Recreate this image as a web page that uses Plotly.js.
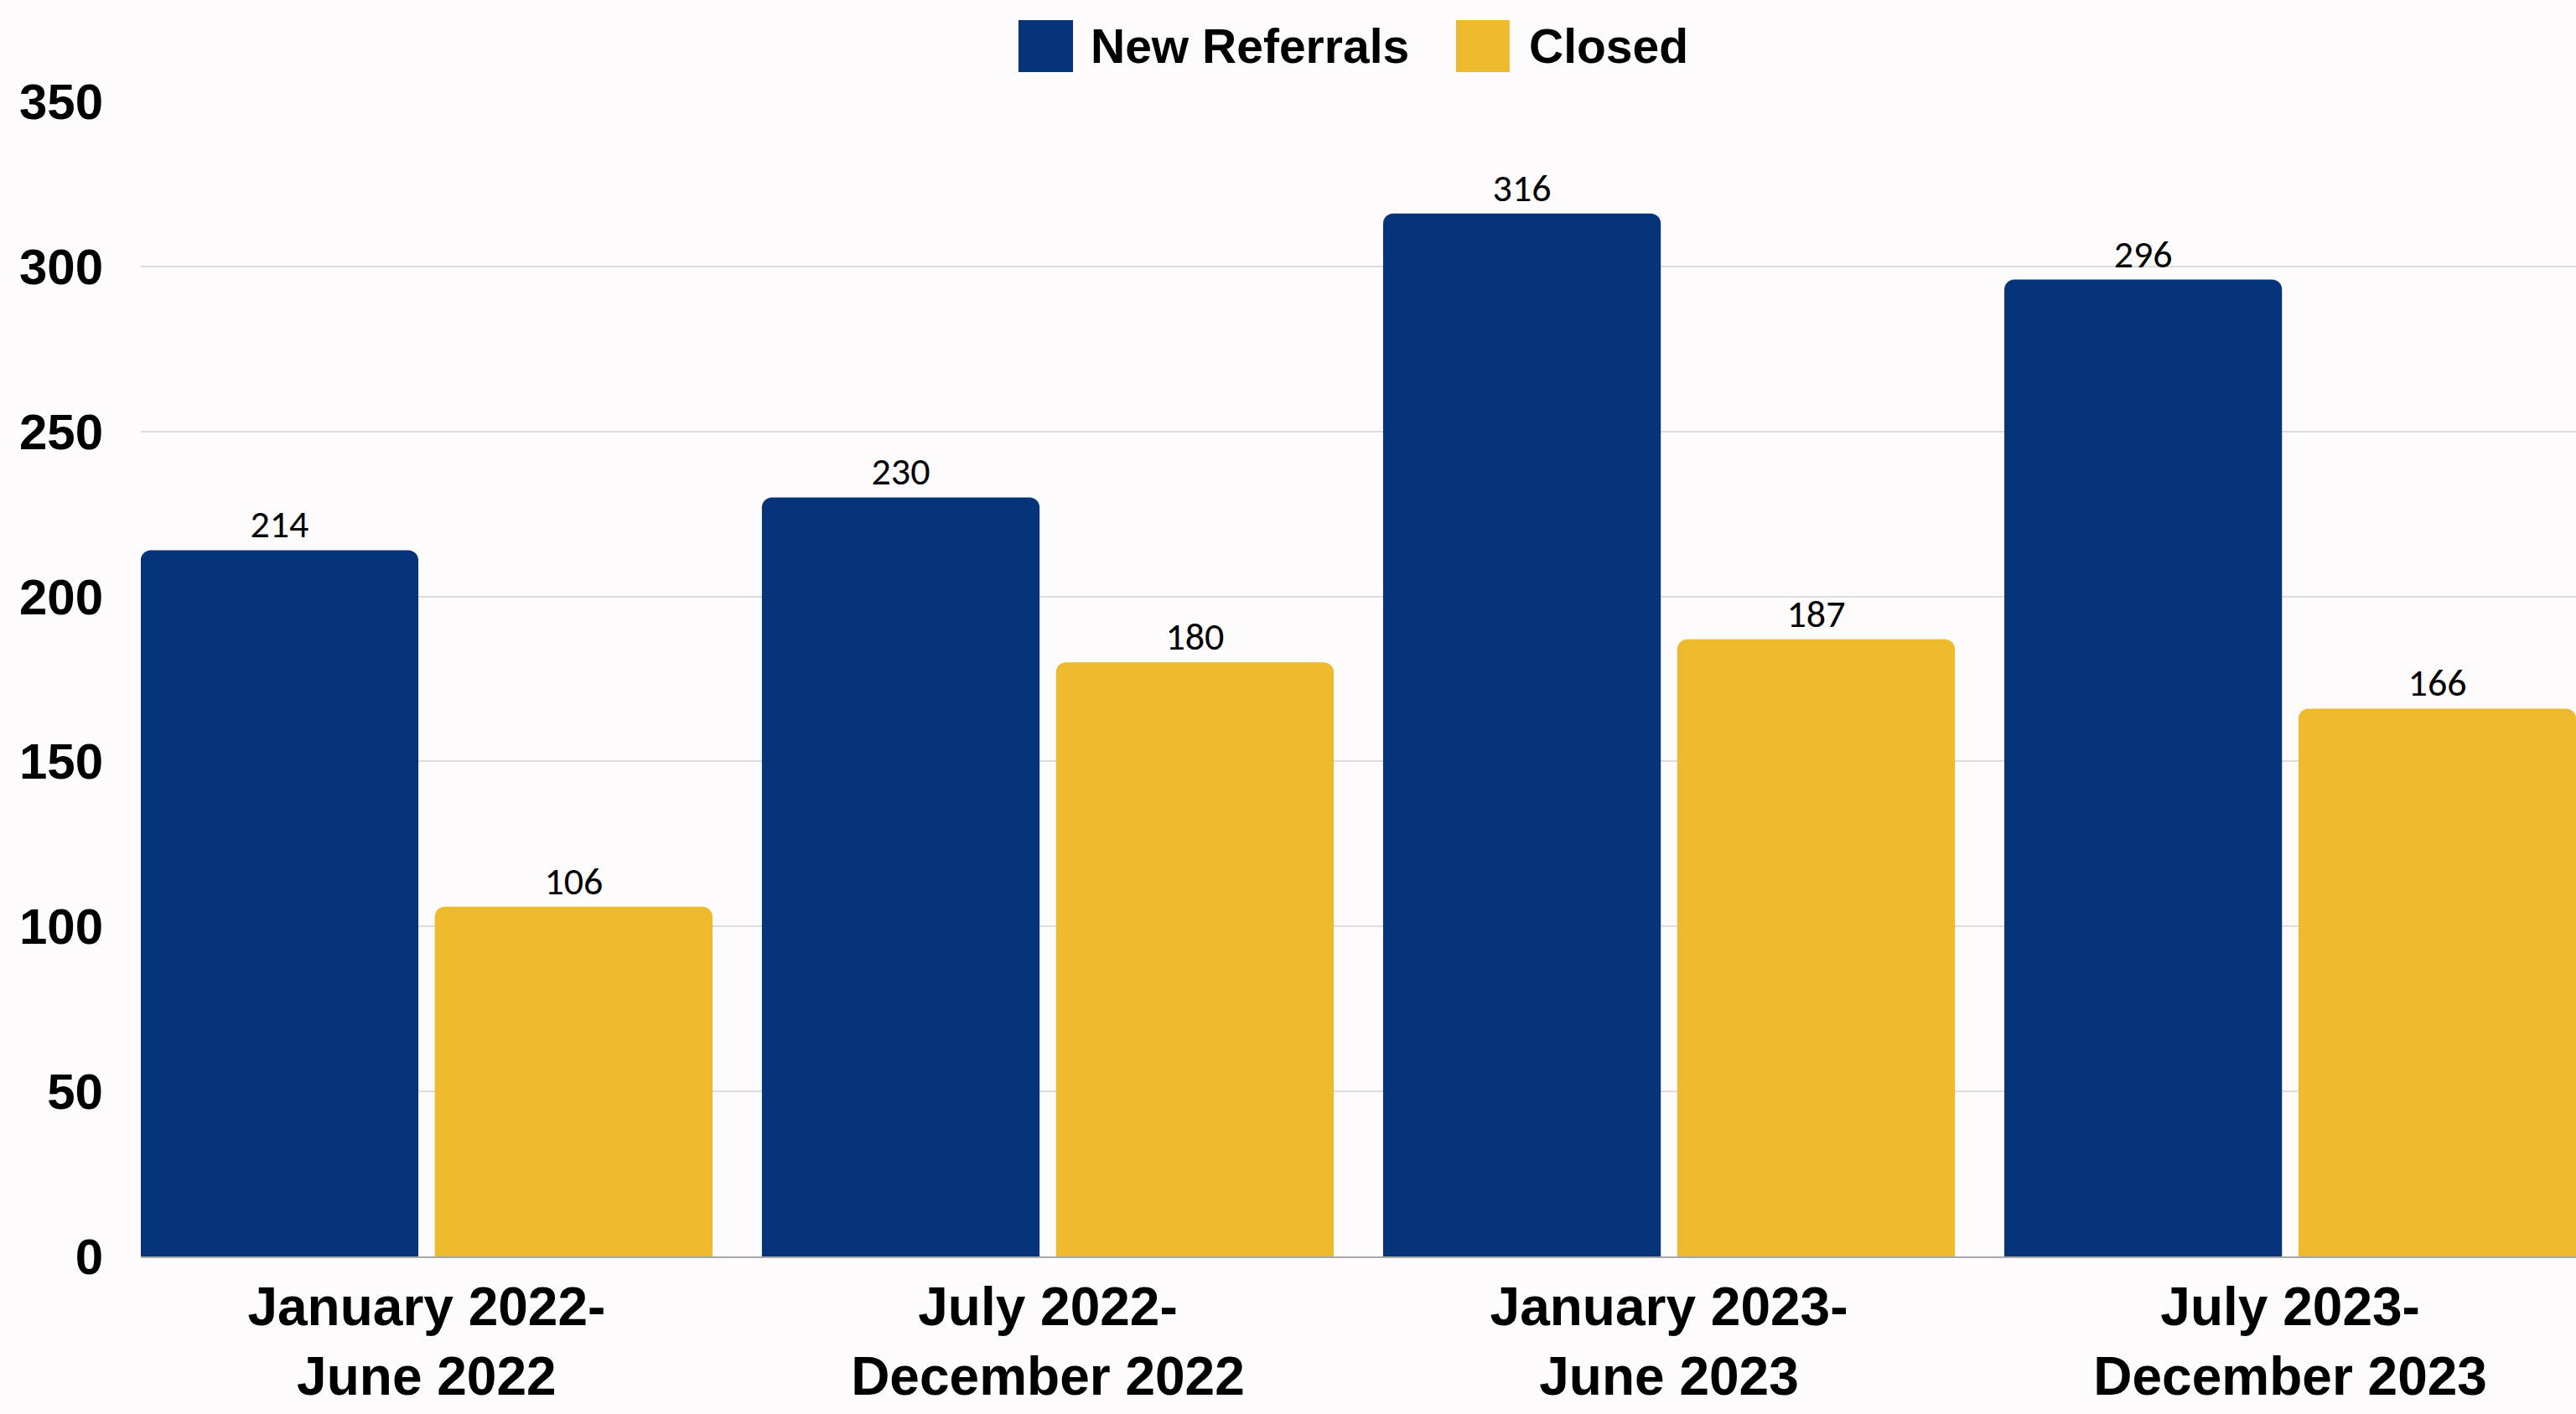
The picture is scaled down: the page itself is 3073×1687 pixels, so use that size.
<!DOCTYPE html>
<html>
<head>
<meta charset="utf-8">
<script src="https://cdn.plot.ly/plotly-3.0.1.min.js"></script>
<style>
  html, body { margin: 0; padding: 0; background: #FDFBFC; }
  #chart { width: 3073px; height: 1687px; }
</style>
</head>
<body>
<div id="chart"></div>
<script>
const categories = [
  "January 2022-<br>June 2022",
  "July 2022-<br>December 2022",
  "January 2023-<br>June 2023",
  "July 2023-<br>December 2023"
];
const newReferrals = [214, 230, 316, 296];
const closed = [106, 180, 187, 166];
const seriesNames = ["New Referrals", "Closed"];
const seriesColors = ["#05347B", "#EDB92D"];
const yTicks = [0, 50, 100, 150, 200, 250, 300, 350];

const labelFont = { family: "Carlito, Lato, 'Open Sans', sans-serif", size: 46, color: "#000000" };

const traces = [newReferrals, closed].map((vals, i) => ({
  type: "bar",
  name: seriesNames[i],
  x: categories,
  y: vals,
  marker: { color: seriesColors[i], line: { width: 0 } },
  text: vals.map(String),
  textposition: "outside",
  textfont: labelFont,
  cliponaxis: false,
  hoverinfo: "skip",
  showlegend: false
}));

// Custom legend (large swatches) placed above the plot
const legendShapes = [
  { x0: 0.3604, x1: 0.3828, y0: 1.0254, y1: 1.0704 },
  { x0: 0.5401, x1: 0.5621, y0: 1.0254, y1: 1.0704 }
].map((p, i) => ({
  type: "rect", xref: "paper", yref: "paper",
  x0: p.x0, x1: p.x1, y0: p.y0, y1: p.y1,
  fillcolor: seriesColors[i], line: { width: 0 }
}));
const legendAnnotations = [0.3893, 0.5693].map((x, i) => ({
  xref: "paper", yref: "paper", x: x, y: 1.0479,
  xanchor: "left", yanchor: "middle", showarrow: false,
  text: "<b>" + seriesNames[i] + "</b>",
  font: { family: "'Liberation Sans', Arial, sans-serif", size: 57, color: "#000000" }
}));

const layout = {
  width: 3073,
  height: 1687,
  paper_bgcolor: "#FDFBFC",
  plot_bgcolor: "#FDFBFC",
  margin: { l: 168, r: 0, t: 121, b: 188, pad: 0 },
  barmode: "group",
  bargap: 0.053,
  bargroupgap: 0.056,
  barcornerradius: 12,
  showlegend: false,
  xaxis: {
    type: "category",
    range: [-0.46, 3.46],
    showgrid: false,
    showline: true,
    linecolor: "#A8A8A8",
    linewidth: 2,
    ticks: "",
    ticklabelstandoff: 3,
    tickfont: { family: "'Liberation Sans', Arial, sans-serif", size: 64, color: "#000000", weight: "bold" },
    automargin: false,
    fixedrange: true
  },
  yaxis: {
    range: [0, 350],
    tickvals: yTicks,
    ticktext: yTicks.map(String),
    showgrid: true,
    gridcolor: "#DEDCDD",
    gridwidth: 2,
    zeroline: false,
    showline: false,
    ticks: "",
    ticklabelstandoff: 44,
    tickfont: { family: "'Liberation Sans', Arial, sans-serif", size: 60, color: "#000000", weight: "bold" },
    automargin: false,
    fixedrange: true
  },
  shapes: legendShapes,
  annotations: legendAnnotations,
  font: { family: "'Liberation Sans', Arial, sans-serif" }
};

Plotly.newPlot("chart", traces, layout, { staticPlot: true, displayModeBar: false });
</script>
</body>
</html>
